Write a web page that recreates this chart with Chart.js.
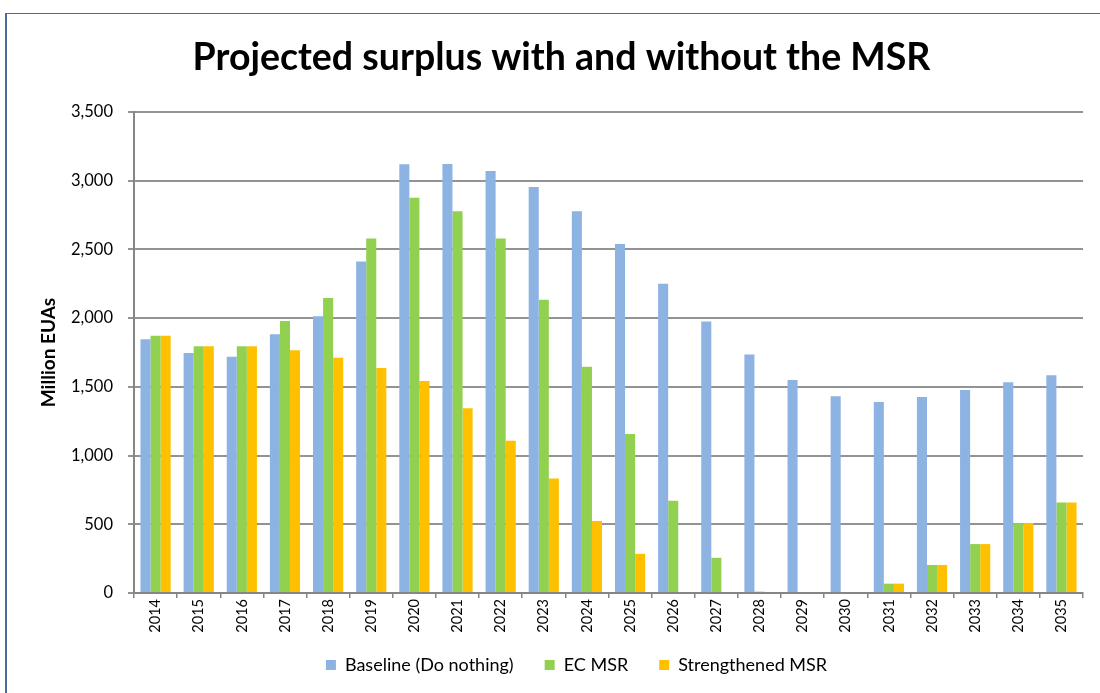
<!DOCTYPE html>
<html>
<head>
<meta charset="utf-8">
<script src="https://cdn.jsdelivr.net/npm/chart.js@4.4.1/dist/chart.umd.min.js"></script>
<style>
  body { margin: 0; background: #fff; }
  #frame {
    position: absolute; left: 5px; top: 13px; width: 1100px; height: 690px;
    border-left: 2px solid #4a6a9b; border-top: 1px solid #4a6a9b;
  }
  #wrap { position: absolute; left: 0; top: 0; width: 1100px; height: 693px; }
</style>
</head>
<body>
<div id="frame"></div>
<div id="wrap"><canvas id="myChart"></canvas></div>
<script>
const years = ['2014', '2015', '2016', '2017', '2018', '2019', '2020', '2021', '2022', '2023', '2024',
    '2025', '2026', '2027', '2028', '2029', '2030', '2031', '2032', '2033', '2034', '2035'];

// Million EUAs
const baseline = [1846, 1746, 1719, 1883, 2014, 2413, 3120, 3122, 3071, 2954, 2777,
    2540, 2250, 1975, 1735, 1550, 1432, 1390, 1427, 1478, 1534, 1585];
const ecMsr = [1871, 1795, 1795, 1980, 2146, 2579, 2876, 2777, 2579, 2133, 1646,
    1157, 672, 256, 10, 0, 0, 68, 204, 356, 509, 658];
const strengthenedMsr = [1871, 1795, 1795, 1766, 1712, 1637, 1542, 1344, 1108, 833, 524,
    285, 0, 0, 0, 0, 0, 68, 204, 356, 509, 658];

const yTicks = [0, 500, 1000, 1500, 2000, 2500, 3000, 3500];

Chart.defaults.font.family = 'Lato, "Open Sans", sans-serif';
Chart.defaults.color = '#000';

// title and legend sit a bit right of the canvas centre in the original
const nudgeBoxes = {
    id: 'nudgeBoxes',
    afterLayout(chart) {
        const lg = chart.legend;
        lg.left += 35; lg.right += 35;
        lg.top -= 9; lg.bottom -= 9;
        const tb = chart.titleBlock;
        tb.left += 20; tb.right += 20;
    }
};

const config = {
    type: 'bar',
    data: {
        labels: years,
        datasets: [
            { label: 'Baseline (Do nothing)', backgroundColor: '#8db3e2', data: baseline },
            { label: 'EC MSR', backgroundColor: '#92d050', data: ecMsr },
            { label: 'Strengthened MSR', backgroundColor: '#ffc000', data: strengthenedMsr }
        ]
    },
    options: {
        responsive: true,
        maintainAspectRatio: false,
        animation: false,
        layout: { padding: { left: 0, right: 17, top: 0, bottom: 0 } },
        datasets: { bar: { categoryPercentage: 0.7, barPercentage: 1.0 } },
        plugins: {
            title: {
                display: true,
                text: 'Projected surplus with and without the MSR',
                font: { size: 37.5, weight: 'bold' },
                padding: { top: 35, bottom: 32 }
            },
            legend: {
                position: 'bottom',
                labels: { boxWidth: 10, boxHeight: 10, padding: 31, font: { size: 18 } }
            },
            tooltip: { enabled: false }
        },
        scales: {
            x: {
                grid: { drawOnChartArea: false, drawTicks: true, tickLength: 5, color: '#868686', lineWidth: 1.5 },
                border: { color: '#868686', width: 2 },
                ticks: { minRotation: 90, maxRotation: 90, padding: 1, font: { size: 14.5 } },
                afterFit: s => { s.height = 41; }
            },
            y: {
                min: 0,
                max: 3500,
                afterBuildTicks: s => { s.ticks = yTicks.map(v => ({ value: v })); },
                grid: { color: '#939393', lineWidth: 2, tickLength: 6 },
                border: { color: '#868686', width: 2 },
                ticks: { padding: 15, font: { size: 16.5 } },
                title: {
                    display: true,
                    text: 'Million EUAs',
                    font: { size: 19, weight: 'bold' },
                    padding: { top: 37, bottom: 0 }
                },
                afterFit: s => { s.width = 134; }
            }
        }
    },
    plugins: [nudgeBoxes]
};

var myChart = new Chart(document.getElementById('myChart'), config);
</script>
</body>
</html>
